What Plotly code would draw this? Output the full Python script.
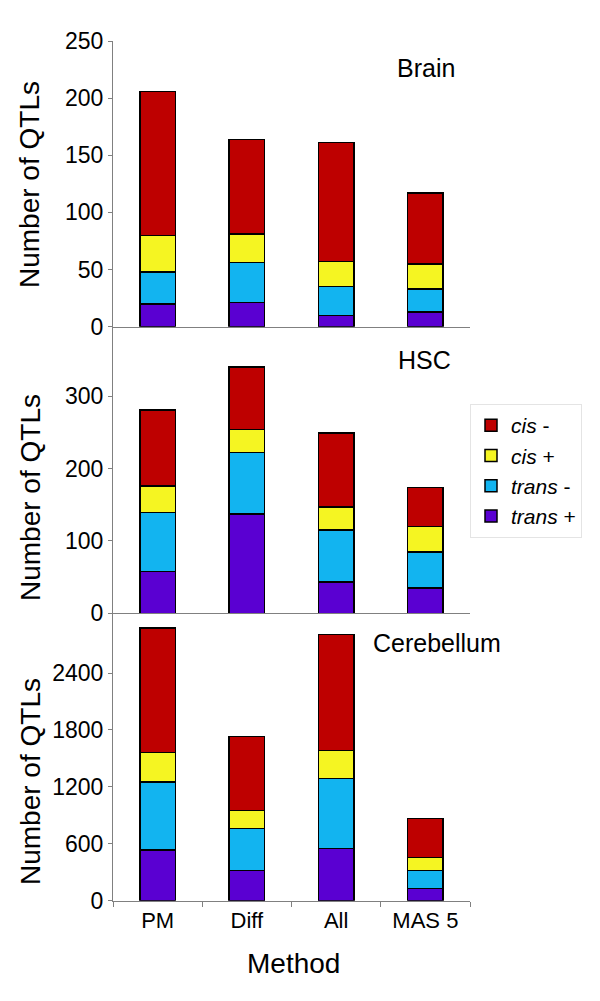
import plotly.graph_objects as go
from plotly.subplots import make_subplots

methods = ["PM", "Diff", "All", "MAS 5"]
series_names = ["<i>trans</i> +", "<i>trans</i> -", "<i>cis</i> +", "<i>cis</i> -"]
series_colors = ["#5A00D2", "#12B4F0", "#F5F522", "#BE0000"]

brain_trans_plus = [20, 21, 10, 13]
brain_trans_minus = [28, 35, 25, 20]
brain_cis_plus = [32, 25, 22, 22]
brain_cis_minus = [126, 83, 104, 62]

hsc_trans_plus = [58, 137, 43, 35]
hsc_trans_minus = [81, 85, 72, 50]
hsc_cis_plus = [37, 32, 32, 35]
hsc_cis_minus = [105, 86, 102, 54]

cb_trans_plus = [534, 320, 552, 127]
cb_trans_minus = [720, 443, 738, 189]
cb_cis_plus = [310, 189, 295, 137]
cb_cis_minus = [1310, 780, 1223, 411]

panel_names = ["Brain", "HSC", "Cerebellum"]
panels = [
    [brain_trans_plus, brain_trans_minus, brain_cis_plus, brain_cis_minus],
    [hsc_trans_plus, hsc_trans_minus, hsc_cis_plus, hsc_cis_minus],
    [cb_trans_plus, cb_trans_minus, cb_cis_plus, cb_cis_minus],
]
y_ranges = [[0, 250], [0, 396], [0, 3030]]
y_ticks = [[0, 50, 100, 150, 200, 250], [0, 100, 200, 300], [0, 600, 1200, 1800, 2400]]

W, H = 600, 1001
FONT = "Liberation Sans, Arial, sans-serif"

fig = make_subplots(rows=3, cols=1, shared_xaxes=True, vertical_spacing=0)

for r, data in enumerate(panels, start=1):
    for i, vals in enumerate(data):
        fig.add_trace(
            go.Bar(
                x=methods, y=vals, name=series_names[i],
                marker=dict(color=series_colors[i], line=dict(color="black", width=1.5)),
                legendgroup=series_names[i], showlegend=(r == 2),
            ),
            row=r, col=1,
        )

# pixel layout
x0, x1 = 113, 470
pan_px = [(41, 326.7), (326.7, 613.3), (613.3, 900.7)]

def py(p):
    return 1 - p / H

for r in range(1, 4):
    top, bot = pan_px[r - 1]
    yax = "yaxis" if r == 1 else f"yaxis{r}"
    xax = "xaxis" if r == 1 else f"xaxis{r}"
    fig.layout[yax].update(
        domain=[py(bot), py(top)], range=y_ranges[r - 1], tickvals=y_ticks[r - 1],
        showline=True, linecolor="#808080", linewidth=1, ticks="outside", ticklen=4,
        tickcolor="#808080", showgrid=False, zeroline=False,
        tickfont=dict(family=FONT, size=23, color="black"), automargin=False,
    )
    fig.layout[xax].update(
        domain=[x0 / W, x1 / W], showline=True, linecolor="#808080", linewidth=1,
        showgrid=False, zeroline=False, automargin=False,
    )
    if r < 3:
        fig.layout[xax].update(showticklabels=False, ticks="")
    else:
        fig.layout[xax].update(
            ticks="outside", tickson="boundaries", ticklen=5, tickcolor="#808080",
            tickfont=dict(family=FONT, size=22, color="black"),
        )

annotations = []
title_centers = [185, 498, 782]
for r in range(3):
    annotations.append(dict(
        text="Number of QTLs", x=30 / W, y=py(title_centers[r]), xref="paper", yref="paper",
        textangle=-90, showarrow=False, font=dict(family=FONT, size=28, color="black"),
        xanchor="center", yanchor="middle",
    ))
annotations.append(dict(text="Brain", x=426 / W, y=py(68), xref="paper", yref="paper",
                        showarrow=False, font=dict(family=FONT, size=25, color="black"),
                        xanchor="center", yanchor="middle"))
annotations.append(dict(text="HSC", x=424 / W, y=py(360), xref="paper", yref="paper",
                        showarrow=False, font=dict(family=FONT, size=25, color="black"),
                        xanchor="center", yanchor="middle"))
annotations.append(dict(text="Cerebellum", x=371 / W, y=py(643), xref="paper", yref="paper",
                        showarrow=False, font=dict(family=FONT, size=25, color="black"),
                        xanchor="left", yanchor="middle"))
annotations.append(dict(text="Method", x=293 / W, y=py(963), xref="paper", yref="paper",
                        showarrow=False, font=dict(family=FONT, size=28, color="black"),
                        xanchor="center", yanchor="middle"))

fig.update_layout(
    width=W, height=H, margin=dict(l=0, r=0, t=0, b=0),
    barmode="stack", bargap=0.6,
    plot_bgcolor="white", paper_bgcolor="white",
    annotations=annotations,
    legend=dict(
        x=470 / W, y=py(404), xanchor="left", yanchor="top",
        traceorder="reversed", bordercolor="#E4E4E4", borderwidth=1,
        font=dict(family=FONT, size=21, color="black"), bgcolor="white",
        itemwidth=30, tracegroupgap=0,
    ),
    showlegend=True,
)

fig.write_html(
    "out.html",
    config={"displayModeBar": False},
    post_script="document.body.style.margin='0';document.body.style.overflow='hidden';",
)
